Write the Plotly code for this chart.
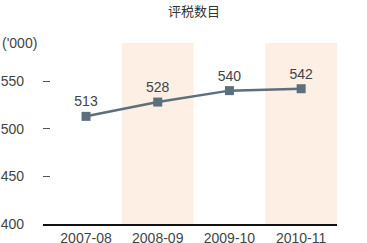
import plotly.graph_objects as go

categories = ["2007-08", "2008-09", "2009-10", "2010-11"]
values = [513, 528, 540, 542]
highlighted = ["2008-09", "2010-11"]
y_ticks = [400, 450, 500, 550]
title = "评税数目"
unit = "('000)"

text_color = "#444444"
line_color = "#5b6f7d"
band_color = "#fdefe4"
font_family = "Liberation Sans, Arial, sans-serif"

fig = go.Figure()

shapes = []
for c in highlighted:
    i = categories.index(c)
    shapes.append(dict(type="rect", xref="x", yref="paper", x0=i - 0.5, x1=i + 0.5,
                       y0=0, y1=1, fillcolor=band_color, line_width=0, layer="below"))

fig.add_trace(go.Scatter(
    x=categories, y=values, mode="lines+markers+text",
    text=[str(v) for v in values], textposition="top center",
    textfont=dict(size=14, color=text_color, family=font_family),
    line=dict(color=line_color, width=2.5),
    marker=dict(symbol="square", size=9, color=line_color),
    cliponaxis=False, hoverinfo="skip",
))

fig.update_layout(
    width=367, height=243,
    margin=dict(l=43, r=30, t=43, b=19, autoexpand=False),
    paper_bgcolor="white", plot_bgcolor="white",
    showlegend=False,
    shapes=shapes,
    font=dict(family=font_family, color=text_color, size=14),
    annotations=[
        dict(text=title, xref="paper", yref="paper", x=0.512, y=1, yshift=33,
             xanchor="center", yanchor="middle", showarrow=False,
             font=dict(size=13, color="#333333", family="Noto Sans CJK SC, sans-serif")),
        dict(text=unit, xref="paper", yref="paper", x=0, y=1, xshift=-43,
             xanchor="left", yanchor="middle", showarrow=False,
             font=dict(size=14, color=text_color, family=font_family)),
    ],
)

fig.update_xaxes(
    type="category", range=[-0.6, 3.5], showgrid=False, zeroline=False,
    showline=True, linecolor="#111111", linewidth=2,
    ticks="", tickfont=dict(size=14, color=text_color), automargin=False,
)
fig.update_yaxes(
    range=[400, 590], tickvals=y_ticks, showgrid=False, zeroline=False,
    showline=False, ticks="inside", ticklen=7, tickcolor="#555555", tickwidth=1,
    tickfont=dict(size=14, color=text_color), ticklabelstandoff=18, automargin=False,
)

fig.write_html("out.html")
